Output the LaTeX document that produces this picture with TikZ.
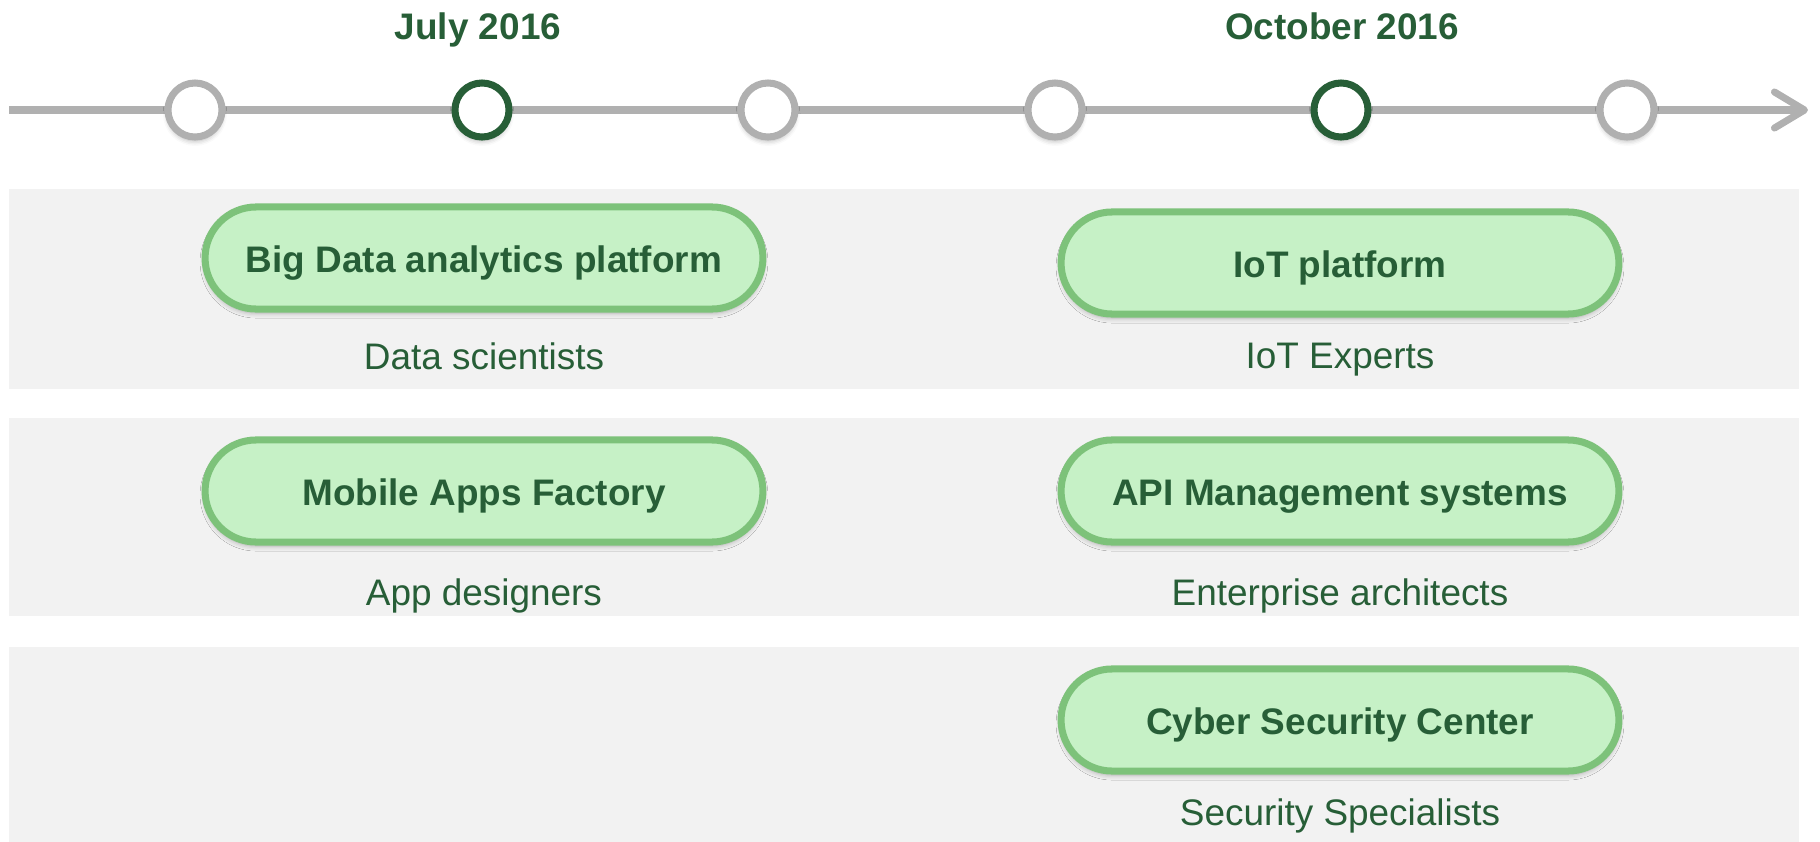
\documentclass[tikz,border=0pt]{standalone}
\usepackage{fontspec}
\setmainfont{Liberation Sans}
\usetikzlibrary{arrows.meta, shapes.misc, shadows.blur}
\definecolor{cgreen}{HTML}{275E37}
\definecolor{clight}{HTML}{C6F1C6}
\definecolor{cleaf}{HTML}{7DC27A}
\definecolor{cgrey}{HTML}{B0B0B0}
\definecolor{cband}{HTML}{F2F2F2}
\tikzset{
  every picture/.style={x=0.01cm, y=-0.01cm, font=\fontsize{10.5}{12.6}\selectfont},
  soft/.style={blur shadow={shadow xshift=0pt, shadow yshift=-0.04cm, shadow blur radius=0.05cm, shadow opacity=30}},
  line/.style={text height=0.29cm, text depth=0pt},
  band/.style={fill=cband, draw=none},
  milestone/.style={circle, draw=#1, fill=white, line width=2pt, minimum size=0.54cm, inner sep=0pt, soft},
  milestone/.default=cgrey,
  pill/.style={rounded rectangle, draw=cleaf, fill=clight, line width=2pt, minimum width=5.81cm, minimum height=1.02cm, text=cgreen, font=\fontsize{10.5}{12.6}\selectfont\bfseries, line, soft},
  role/.style={text=cgreen, line},
  date/.style={text=cgreen, font=\fontsize{10.5}{12.6}\selectfont\bfseries, line},
  timeline/.style={draw=cgrey, line width=2pt, -{Straight Barb[length=0.3cm, width=0.36cm, round]}},
}

\begin{document}
\begin{tikzpicture}
  \useasboundingbox (0,0) rectangle (1820,842);
  % rows
  \fill[band] (9,189) rectangle (1799,389);
  \fill[band] (9,418) rectangle (1799,616);
  \fill[band] (9,647) rectangle (1799,842);

  % timeline
  \coordinate (start) at (9,110);
  \coordinate (tip) at (1808,110);
  \draw[timeline] (start) -- (tip);
  \node[milestone] (m1) at (195,110) {};
  \node[milestone=cgreen] (m2) at (482,110) {};
  \node[milestone] (m3) at (768,110) {};
  \node[milestone] (m4) at (1055,110) {};
  \node[milestone=cgreen] (m5) at (1341,110) {};
  \node[milestone] (m6) at (1627,110) {};
  \node[date] (july) at (478,25) {July 2016};
  \node[date] (october) at (1342,25) {October 2016};

  % projects
  \node[pill] (bigdata) at (484,258) {Big Data analytics platform};
  \node[role] (bigdata-role) at (484,355) {Data scientists};
  \node[pill] (iot) at (1340,263) {IoT platform};
  \node[role] (iot-role) at (1340,354) {IoT Experts};
  \node[pill] (mobile) at (484,491) {Mobile Apps Factory};
  \node[role] (mobile-role) at (484,591) {App designers};
  \node[pill] (api) at (1340,491) {API Management systems};
  \node[role] (api-role) at (1340,591) {Enterprise architects};
  \node[pill] (cyber) at (1340,720) {Cyber Security Center};
  \node[role] (cyber-role) at (1340,811) {Security Specialists};
\end{tikzpicture}
\end{document}
